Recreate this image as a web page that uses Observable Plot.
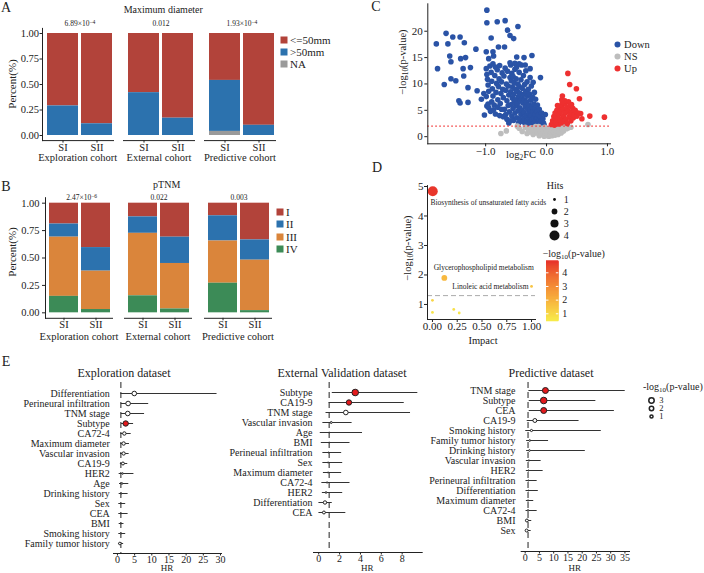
<!DOCTYPE html>
<html><head><meta charset="utf-8">
<script src="https://cdn.jsdelivr.net/npm/d3@7"></script>
<script src="https://cdn.jsdelivr.net/npm/@observablehq/plot@0.6"></script>
<style>
body{margin:0;background:#fff;}
#fig{position:relative;width:704px;height:573px;overflow:hidden;font-family:"Liberation Serif","Times New Roman",serif;color:#222;background:#fff;}
.t,.tl,.rot{position:absolute;white-space:nowrap;line-height:1;}
.t{transform:translate(-50%,-50%);}
.tl{transform:translate(0,-50%);}
.rot{transform:translate(-50%,-50%) rotate(-90deg);}
.sw{position:absolute;width:7px;height:7px;transform:translate(-50%,-50%);}
sup{font-size:0.75em;vertical-align:0.45em;line-height:0;}
.sb{font-size:0.7em;position:relative;top:0.25em;}
</style></head><body><div id="fig"></div>
<script>
// ---------------- DATA ----------------
// Panel A: maximum diameter (proportions, per stage SI / SII)
const cohorts = ["Exploration cohort", "External cohort", "Predictive cohort"];
const stages = ["SI", "SII"];
const diamCats = ["<=50mm", ">50mm", "NA"];
const diamColors = ["#B2433A", "#2C72AE", "#9A9A9A"];
const diamExploration = [[0.71, 0.29, 0.00], [0.885, 0.115, 0.00]];
const diamExternal = [[0.58, 0.42, 0.00], [0.83, 0.17, 0.00]];
const diamPredictive = [[0.46, 0.50, 0.04], [0.90, 0.10, 0.00]];
const diamP = ["6.89×10^−4", "0.012", "1.93×10^−4"];

// Panel B: pTNM
const tnmCats = ["I", "II", "III", "IV"];
const tnmColors = ["#B2433A", "#2C72AE", "#DA853B", "#3C8B57"];
const tnmExploration = [[0.19, 0.12, 0.54, 0.15], [0.405, 0.215, 0.35, 0.03]];
const tnmExternal = [[0.125, 0.15, 0.57, 0.155], [0.31, 0.24, 0.415, 0.035]];
const tnmPredictive = [[0.115, 0.23, 0.385, 0.27], [0.335, 0.185, 0.46, 0.02]];
const tnmP = ["2.47×10^−6", "0.022", "0.003"];

// Panel C: volcano [log2FC, -log10(p)]
const volcanoGroups = ["Down", "NS", "Up"];
const volcanoColors = ["#2A53A6", "#BDBDBD", "#EE3030"];
const volcanoDown = [
[-1.81,17.6],[-1.79,12.9],[-1.65,19.6],[-1.68,9.9],[-1.62,17.6],[-1.59,15.3],[-1.57,14.2],[-1.54,18.9],[-1.57,11.0],[-1.49,10.6],
[-1.42,18.9],[-1.35,17.8],[-1.41,14.8],[-1.33,15.0],[-1.37,12.9],[-1.36,11.5],[-1.44,6.8],[-1.42,6.4],[-1.29,9.3],[-1.29,6.5],
[-1.25,13.1],[-1.16,16.6],[-1.14,8.7],[-1.07,7.1],[-1.02,4.1],[-1.03,8.2],[-0.98,24.0],[-0.98,21.6],[-0.81,21.8],[-0.68,22.0],
[-0.64,20.2],[-0.60,19.2],[-0.54,18.6],[-0.47,20.9],[-0.91,18.7],[-0.99,16.1],[-0.88,16.1],[-0.79,17.0],[-0.69,17.0],[-0.95,14.8],
[-0.87,15.3],[-0.49,15.1],[-0.37,15.0],[-0.24,15.4],[-0.10,11.2],[-0.02,4.2],[-0.98,5.8],[-0.96,6.2],
[-0.99,12.9],[-0.98,11.8],[-0.97,10.9],[-0.96,9.8],[-0.99,7.6],[-0.95,8.6],[-0.93,13.4],[-0.91,12.2],[-0.90,10.5],[-0.89,9.1],
[-0.88,7.7],[-0.86,6.0],[-0.85,11.6],[-0.84,13.2],[-0.83,8.4],[-0.82,10.1],[-0.81,12.7],[-0.80,7.0],[-0.79,9.5],[-0.78,11.0],
[-0.77,13.5],[-0.76,6.3],[-0.75,8.2],[-0.74,10.4],[-0.73,12.1],[-0.72,9.0],[-0.71,7.4],[-0.70,11.5],[-0.69,5.2],[-0.68,13.0],
[-0.67,8.8],[-0.66,10.0],[-0.65,6.8],[-0.64,12.4],[-0.63,9.6],[-0.62,7.9],[-0.61,4.7],[-0.60,11.2],
[-0.59,13.6],[-0.59,8.5],[-0.58,6.1],[-0.58,10.6],[-0.57,3.9],[-0.57,12.0],[-0.56,7.3],[-0.56,9.4],[-0.55,5.4],[-0.55,11.4],
[-0.54,3.1],[-0.54,8.0],[-0.53,6.7],[-0.53,10.2],[-0.52,12.8],[-0.52,4.5],[-0.51,9.0],[-0.51,7.0],[-0.50,5.9],[-0.50,11.0],
[-0.49,3.6],[-0.49,13.2],[-0.48,8.6],[-0.48,6.3],[-0.47,10.0],[-0.47,4.9],[-0.46,7.6],[-0.46,2.6],[-0.45,9.5],[-0.45,12.2],
[-0.44,5.5],[-0.44,3.3],[-0.43,8.2],[-0.43,6.9],[-0.42,10.8],[-0.42,4.2],[-0.41,7.2],[-0.41,13.6],[-0.40,5.0],[-0.40,9.2],
[-0.39,2.9],[-0.39,6.4],[-0.38,11.6],[-0.38,8.0],[-0.37,4.6],[-0.37,3.6],[-0.36,7.0],[-0.36,9.9],[-0.35,5.7],[-0.35,2.4],
[-0.34,12.5],[-0.34,8.6],[-0.33,4.0],[-0.33,6.6],[-0.32,3.0],[-0.32,10.4],[-0.31,5.2],[-0.31,7.7],[-0.30,2.5],[-0.30,9.0],
[-0.29,4.4],[-0.29,6.0],[-0.28,3.4],[-0.28,8.1],[-0.27,5.1],[-0.27,11.2],[-0.26,2.8],[-0.26,6.9],[-0.25,4.0],[-0.25,9.6],
[-0.24,3.2],[-0.24,5.6],[-0.23,7.5],[-0.23,2.3],[-0.22,4.7],[-0.22,10.3],[-0.21,3.6],[-0.21,6.2],[-0.20,2.7],[-0.20,8.4],
[-0.19,4.2],[-0.19,5.3],[-0.18,3.0],[-0.18,7.1],[-0.17,2.4],[-0.16,4.8],[-0.16,3.5],[-0.15,6.0],[-0.14,2.8],[-0.13,4.1],
[-0.12,3.2],[-0.12,5.2],[-0.11,2.5],[-0.10,3.7],[-0.09,2.9],[-0.08,4.5],[-0.07,2.3],[-0.06,3.4],[-0.05,2.6],[-0.04,2.2],
[-0.95,5.5],[-0.92,4.8],[-0.90,6.6],[-0.87,5.1],[-0.84,4.3],[-0.80,5.6],[-0.77,4.0],[-0.74,5.2],[-0.71,3.8],[-0.67,4.2],
[-0.65,3.3],[-0.63,5.9],[-0.60,3.0],[-0.62,2.6],[-0.88,13.8],[-0.60,14.0],[-0.52,13.9],[-0.45,13.8],[-0.35,13.6],[-0.27,12.9]
];
const volcanoNS = [
[-0.75,0.6],[-0.66,1.1],[-0.45,1.6],[-0.40,1.0],[-0.35,1.8],[-0.32,0.6],[-0.30,1.3],[-0.27,0.9],[-0.25,1.7],[-0.22,0.4],
[-0.20,1.1],[-0.18,1.9],[-0.16,0.7],[-0.14,1.4],[-0.12,0.2],[-0.10,0.9],[-0.08,1.6],[-0.07,0.5],[-0.05,1.2],[-0.04,0.1],
[-0.03,1.8],[-0.02,0.7],[-0.01,0.3],[0.00,1.0],[0.01,0.2],[0.02,1.5],[0.03,0.6],[0.04,0.1],[0.05,1.1],[0.06,0.4],
[0.07,1.7],[0.08,0.8],[0.09,0.2],[0.10,1.3],[0.11,0.5],[0.12,0.9],[0.13,1.9],[0.14,0.3],[0.15,1.2],[0.16,0.6],
[0.18,1.6],[0.19,0.4],[0.20,1.0],[0.22,1.8],[0.24,0.7],[0.26,1.4],[0.28,1.1],[0.30,1.9],[0.33,1.5],[0.36,1.7],
[0.40,1.8],[0.68,2.3],[-0.48,2.0],[-0.13,1.9]
];
const volcanoUp = [
[0.35,12.0],[0.38,9.9],[0.49,9.1],[0.54,7.2],[0.26,7.7],[0.25,7.0],[0.95,3.7],[0.71,3.9],[0.56,4.4],[0.58,3.4],
[0.08,2.3],[0.10,3.0],[0.11,2.6],[0.12,3.8],[0.13,2.2],[0.14,4.5],[0.15,3.2],[0.16,2.7],[0.17,5.0],[0.18,3.7],
[0.19,2.4],[0.20,4.2],[0.21,5.6],[0.22,3.0],[0.23,4.8],[0.24,2.6],[0.25,6.0],[0.26,3.5],[0.27,5.2],[0.28,4.0],
[0.29,2.9],[0.30,6.3],[0.31,4.6],[0.32,3.3],[0.33,5.5],[0.34,2.5],[0.35,4.9],[0.36,6.6],[0.37,3.8],[0.38,5.8],
[0.39,4.3],[0.40,3.0],[0.41,6.1],[0.42,4.7],[0.43,5.4],[0.44,3.6],[0.45,4.1],[0.47,5.0],[0.50,3.9],[0.52,4.5],
[0.30,6.8],[0.26,6.5],[0.18,5.9]
];
const volcanoThreshold = 2;

// Panel D: pathway analysis
const pathwayNames = ["Biosynthesis of unsaturated fatty acids", "Glycerophospholipid metabolism", "Linoleic acid metabolism", "", "", "", ""];
const pathwayImpact = [0.003, 0.12, 1.0, 0.0, 0.0, 0.215, 0.27];
const pathwayLogP = [4.84, 1.90, 1.61, 1.14, 0.73, 0.83, 0.71];
const pathwayHits = [4, 2, 1, 1, 1, 1, 1];
const pathwayThreshold = 1.3;

// Panel E: forest plots (HR with CI, -log10 p)
const expLabels = ["Differentiation","Perineural infiltration","TNM stage","Subtype","CA72-4","Maximum diameter","Vascular invasion","CA19-9","HER2","Age","Drinking history","Sex","CEA","BMI","Smoking history","Family tumor history"];
const expHR = [4.9, 3.1, 3.0, 2.4, 2.0, 1.8, 1.8, 1.6, 1.5, 1.3, 1.1, 1.0, 1.0, 1.0, 1.0, 0.7];
const expLo = [1.0, 1.1, 1.1, 1.2, 1.0, 1.0, 0.9, 0.85, 0.5, 0.6, 0.5, 0.4, 0.4, 0.5, 0.4, 0.3];
const expHi = [29.0, 9.1, 7.9, 4.7, 4.0, 3.5, 3.4, 3.0, 4.8, 3.3, 3.1, 2.4, 3.1, 1.9, 2.4, 1.8];
const expLogP = [2.2, 2.2, 2.2, 3.0, 1.2, 1.2, 1.1, 0.9, 0.25, 0.3, 0.15, 0.1, 0.1, 0.15, 0.2, 0.7];
const expSig = ["Subtype"];

const extLabels = ["Subtype","CA19-9","TNM stage","Vascular invasion","Age","BMI","Perineual infiltration","Sex","Maximum diameter","CA72-4","HER2","Differentiation","CEA"];
const extHR = [3.5, 2.9, 2.6, 1.2, 1.0, 1.0, 0.95, 0.9, 0.9, 0.8, 0.7, 0.6, 0.5];
const extLo = [1.3, 1.0, 0.7, 0.4, 0.15, 0.25, 0.4, 0.4, 0.45, 0.3, 0.35, 0.02, 0.02];
const extHi = [9.5, 8.2, 8.8, 3.2, 4.2, 3.0, 2.2, 2.3, 2.2, 3.0, 2.3, 1.3, 2.6];
const extLogP = [4.5, 3.0, 2.2, 0.4, 0.1, 0.1, 0.1, 0.15, 0.15, 0.2, 0.3, 1.2, 0.9];
const extSig = ["Subtype", "CA19-9"];

const preLabels = ["TNM stage","Subtype","CEA","CA19-9","Smoking history","Family tumor history","Drinking history","Vascular invasion","HER2","Perineural infiltration","Differentiation","Maximum diameter","CA72-4","BMI","Sex"];
const preHR = [7.1, 6.5, 6.5, 3.4, 2.2, 1.6, 1.5, 1.3, 1.2, 1.1, 1.1, 1.0, 1.0, 0.6, 0.5];
const preLo = [1.3, 1.4, 1.4, 0.7, 0.2, 0.5, 0.5, 0.4, 0.4, 0.3, 0.3, 0.4, 0.3, 0.2, 0.2];
const preHi = [35.1, 24.8, 31.3, 18.9, 26.7, 8.2, 21.1, 5.6, 6.3, 4.2, 4.6, 3.0, 4.2, 2.3, 2.1];
const preLogP = [3.7, 4.5, 3.7, 1.6, 0.5, 0.3, 0.3, 0.2, 0.15, 0.15, 0.1, 0.2, 0.3, 0.9, 0.9];
const preSig = ["TNM stage", "Subtype", "CEA"];
const forestLegend = [3, 2, 1];

// ---------------- HELPERS ----------------
const fig = document.getElementById("fig");
const INK = "#222";
function place(el, left, top) {
  el.style.position = "absolute"; el.style.left = left + "px"; el.style.top = top + "px";
  fig.appendChild(el);
}
function label(html, x, y, size, cls = "t") {
  const d = document.createElement("div");
  d.className = cls; d.style.left = x + "px"; d.style.top = y + "px"; d.style.fontSize = size + "px";
  d.innerHTML = html; fig.appendChild(d);
}
const sup = s => s.replace(/\^(.+)$/, "<sup>$1</sup>");
const style = fs => ({fontFamily: '"Liberation Serif", "Times New Roman", serif', fontSize: fs + "px", background: "none", color: INK, overflow: "visible"});

// ---------------- PANELS A & B ----------------
function stackPanel(cfg) {
  cfg.values.forEach((vals, ci) => {
    const rows = [];
    stages.forEach((s, si) => cfg.cats.forEach((c, k) => rows.push({stage: s, cat: c, v: vals[si][k]})));
    const L = cfg.lefts[ci];
    const svg = Plot.plot({
      width: cfg.ml + cfg.fw, height: cfg.h,
      marginLeft: cfg.ml, marginRight: 0,
      marginTop: cfg.yTop - cfg.top, marginBottom: cfg.top + cfg.h - cfg.yBot,
      style: style(cfg.fs),
      x: {domain: stages, paddingInner: 0.1, paddingOuter: 0.1, align: cfg.align, tickSize: 2.5, tickPadding: 0, label: null},
      y: {domain: [-0.05, 1.05], ticks: [0, 0.25, 0.5, 0.75, 1], tickFormat: d3.format(".2f"),
          axis: ci === 0 ? "left" : null, tickSize: cfg.yts, tickPadding: cfg.ytp, label: null},
      color: {domain: cfg.cats, range: cfg.colors},
      marks: [
        Plot.barY(rows, {x: "stage", y: "v", fill: "cat", order: cfg.order}),
        Plot.ruleY([-0.05], {stroke: INK}),
        ci === 0 ? Plot.frame({anchor: "left", stroke: INK}) : null
      ]
    });
    place(svg, L - cfg.ml, cfg.top);
    label(cohorts[ci], L + cfg.fw / 2, cfg.cohortY, 10.5);
    label(sup(cfg.pvals[ci]), cfg.pX[ci], cfg.pY, 7.5);
  });
  cfg.cats.forEach((c, i) => {
    const sw = document.createElement("div");
    sw.className = "sw"; sw.style.left = cfg.legX + "px"; sw.style.top = cfg.legY[i] + "px"; sw.style.background = cfg.colors[i];
    fig.appendChild(sw);
    label(c, cfg.legX + 6, cfg.legY[i], 11, "tl");
  });
}

stackPanel({
  values: [diamExploration, diamExternal, diamPredictive], cats: diamCats, colors: diamColors,
  order: ["NA", ">50mm", "<=50mm"], pvals: diamP,
  lefts: [41.7, 123, 204], fw: 72, ml: 42, align: 0.7,
  top: 0, h: 160, yTop: 27.9, yBot: 140.1, yts: 2.5, ytp: 1, fs: 10.5,
  cohortY: 157.5, pX: [80, 161, 242], pY: 24,
  legX: 284, legY: [40, 52.3, 64.3]
});
stackPanel({
  values: [tnmExploration, tnmExternal, tnmPredictive], cats: tnmCats, colors: tnmColors,
  order: ["IV", "III", "II", "I"], pvals: tnmP,
  lefts: [45, 124, 204], fw: 68, ml: 45, align: 0.5,
  top: 175, h: 160, yTop: 197.2, yBot: 317.8, yts: 3, ytp: 3, fs: 10.5,
  cohortY: 337, pX: [81.7, 159, 239], pY: 198.3,
  legX: 280, legY: [211.7, 224, 236.7, 249]
});
label("A", 6, 8, 14); label("B", 6, 187, 14);
label("Maximum diameter", 163.3, 10, 10);
label("pTNM", 166.7, 185, 10);
label("Percent(%)", 12, 83.5, 11, "rot");
label("Percent(%)", 12, 251.7, 11, "rot");

// ---------------- PANEL C ----------------
const volcanoRows = [
  ...volcanoDown.map(([x, y]) => ({x, y, g: "Down"})),
  ...volcanoNS.map(([x, y]) => ({x, y, g: "NS"})),
  ...volcanoUp.map(([x, y]) => ({x, y, g: "Up"}))
];
const cSvg = Plot.plot({
  width: 240, height: 160, marginLeft: 47.3, marginRight: 10, marginTop: 3.3, marginBottom: 16.7,
  style: style(11),
  x: {domain: [-1.95, 1.05], ticks: [-1, 0, 1], tickSize: 3, tickPadding: 0, label: null},
  y: {domain: [-1.35, 25.2], ticks: [0, 5, 10, 15, 20], tickSize: 3, tickPadding: 2, label: null},
  color: {domain: volcanoGroups, range: volcanoColors},
  marks: [
    Plot.dot(volcanoRows, {x: "x", y: "y", fill: "g", r: 2.8}),
    Plot.ruleY([volcanoThreshold], {stroke: "#F03030", strokeDasharray: "1.5,2.5", strokeWidth: 1.2}),
    Plot.frame({anchor: "left", stroke: INK}),
    Plot.frame({anchor: "bottom", stroke: INK})
  ]
});
place(cSvg, 380, 0);
const cLeg = Plot.plot({
  width: 20, height: 40, margin: 0, style: style(10.5),
  x: {axis: null}, y: {domain: volcanoGroups, range: [8.7, 33.3], padding: 0, axis: null},
  color: {domain: volcanoGroups, range: volcanoColors},
  marks: [
    Plot.dot(volcanoGroups, {y: d => d, fill: d => d, r: 3}),
    Plot.text(volcanoGroups, {y: d => d, text: d => d, dx: 6.6, textAnchor: "start", fontSize: 10.5})
  ]
});
place(cLeg, 606.7, 35);
label("C", 376, 7, 14);
label("log<span class='sb'>2</span>FC", 521, 155, 10.5);
label("−log<span class='sb'>10</span>(p-value)", 403.3, 62, 10.5, "rot");

// ---------------- PANEL D ----------------
const pathRows = pathwayNames.map((n, i) => ({name: n, impact: pathwayImpact[i], logp: pathwayLogP[i], hits: pathwayHits[i]}));
const dColor = {type: "linear", domain: [0.51, 4.85], range: ["#F7EC4C", "#E8352B"], interpolate: d3.interpolateLab};
const dR = {type: "sqrt", domain: [1, 4], range: [1.4, 5]};
const dSvg = Plot.plot({
  width: 170, height: 175, marginLeft: 47, marginRight: 15, marginTop: 25.1, marginBottom: 16,
  style: style(11),
  x: {domain: [-0.05, 1.04], ticks: [0, 0.25, 0.5, 0.75, 1], tickFormat: d3.format(".2f"), tickSize: 3, tickPadding: 0, label: null},
  y: {domain: [0.49, 5.03], ticks: [1, 2, 3, 4, 5], tickFormat: d3.format("d"), tickSize: 3, tickPadding: 1, label: null},
  color: dColor, r: dR,
  marks: [
    Plot.ruleY([pathwayThreshold], {stroke: "#AAAAAA", strokeDasharray: "5,3"}),
    Plot.dot(pathRows, {x: "impact", y: "logp", r: "hits", fill: "logp"}),
    Plot.text(pathRows.slice(0, 1), {x: "impact", y: "logp", text: "name", textAnchor: "start", dx: -2.3, dy: 11.6, fontSize: 7.5}),
    Plot.text(pathRows.slice(1, 2), {x: "impact", y: "logp", text: "name", textAnchor: "start", dx: -10.7, dy: -10.3, fontSize: 7.5}),
    Plot.text(pathRows.slice(2, 3), {x: "impact", y: "logp", text: "name", textAnchor: "end", dx: -3, dy: 0, fontSize: 7.5}),
    Plot.frame({anchor: "left", stroke: INK}),
    Plot.frame({anchor: "bottom", stroke: INK})
  ]
});
place(dSvg, 380, 160);
const hitLevels = ["1", "2", "3", "4"];
const dLeg = Plot.plot({
  width: 30, height: 55, margin: 0, style: style(10),
  x: {axis: null}, y: {domain: hitLevels, range: [9, 45], padding: 0, axis: null}, r: dR,
  marks: [
    Plot.dot(hitLevels, {y: d => d, r: d => +d, fill: "#111"}),
    Plot.text(hitLevels, {y: d => d, text: d => d, dx: 9.3, textAnchor: "start", fontSize: 10})
  ]
});
place(dLeg, 539, 190);
const gradientStops = d3.range(0.51, 4.86, 0.02);
const dBar = Plot.plot({
  width: 32.3, height: 70, marginLeft: 0, marginRight: 20, marginTop: 5.7, marginBottom: 5,
  style: style(10),
  x: {domain: [0, 1], axis: null},
  y: {domain: [0.51, 4.85], axis: "right", ticks: [1, 2, 3, 4], tickFormat: d3.format("d"), tickSize: 0, tickPadding: 3.4, label: null},
  color: dColor,
  marks: [
    Plot.ruleY(gradientStops, {y: d => d, stroke: d => d, strokeWidth: 1.6}),
    Plot.ruleY([1, 2, 3, 4], {x1: 0, x2: 0.2, stroke: "white"}),
    Plot.ruleY([1, 2, 3, 4], {x1: 0.8, x2: 1, stroke: "white"})
  ]
});
place(dBar, 546, 255);
label("D", 377, 168, 14);
label("Hits", 546.7, 186, 10, "tl");
label("−log<span class='sb'>10</span>(p-value)", 542.7, 254, 10, "tl");
label("Impact", 483, 341, 10.5);
label("−log<span class='sb'>10</span>(p-value)", 408.3, 248, 10.5, "rot");

// ---------------- PANEL E ----------------
const eR = {type: "sqrt", domain: [0, 3], range: [0, 2.7]};
function forest(c) {
  const rows = c.labels.map((l, i) => ({label: l, hr: c.hr[i], lo: c.lo[i], hi: c.hi[i], p: c.logp[i], sig: c.sig.includes(l)}));
  const svg = Plot.plot({
    width: c.width, height: c.height, marginLeft: c.ml, marginRight: c.width - c.ml - c.pw,
    marginTop: c.dashTop - c.top, marginBottom: c.top + c.height - c.axisY,
    style: style(10),
    x: {domain: c.xDomain, ticks: c.xTicks, tickSize: 2.5, tickPadding: 0, label: null, fontSize: 9.5},
    y: {domain: c.labels, range: [c.yFirst - c.top, c.yLast - c.top], padding: 0, tickSize: 0, tickPadding: c.pad, label: null},
    r: eR,
    marks: [
      Plot.ruleX([1], {stroke: INK, strokeDasharray: "6,4"}),
      Plot.ruleY(rows, {y: "label", x1: "lo", x2: "hi", stroke: "#333"}),
      Plot.dot(rows, {x: "hr", y: "label", r: "p", fill: d => d.sig ? "#E3191C" : "white", stroke: INK, strokeWidth: 1}),
      Plot.frame({anchor: "bottom", stroke: INK})
    ]
  });
  place(svg, c.left, c.top);
  label(c.title, c.titleX, 373, 12);
  label("HR", c.left + c.ml + c.pw / 2, 568, 9);
}
forest({labels: expLabels, hr: expHR, lo: expLo, hi: expHi, logp: expLogP, sig: expSig,
  left: 0, top: 375, width: 225, height: 199, ml: 113, pw: 108, dashTop: 382, axisY: 553,
  yFirst: 392, yLast: 543, xDomain: [-1.15, 30.3], xTicks: [0, 5, 10, 15, 20, 25, 30], pad: 3.7,
  title: "Exploration dataset", titleX: 124});
forest({labels: extLabels, hr: extHR, lo: extLo, hi: extHi, logp: extLogP, sig: extSig,
  left: 220, top: 375, width: 205, height: 199, ml: 93, pw: 108.7, dashTop: 382, axisY: 552,
  yFirst: 392, yLast: 512, xDomain: [-0.5, 9.92], xTicks: [0, 2, 4, 6, 8], pad: 1,
  title: "External Validation dataset", titleX: 342});
forest({labels: preLabels, hr: preHR, lo: preLo, hi: preHi, logp: preLogP, sig: preSig,
  left: 425, top: 375, width: 210, height: 199, ml: 95.7, pw: 108.3, dashTop: 382, axisY: 551,
  yFirst: 390, yLast: 530.7, xDomain: [-1.4, 36.6], xTicks: [0, 5, 10, 15, 20, 25, 30, 35], pad: 5.7,
  title: "Predictive dataset", titleX: 551});
const eLeg = Plot.plot({
  width: 20, height: 35, margin: 0, style: style(8.5),
  x: {axis: null}, y: {domain: forestLegend.map(String), range: [9.3, 27], padding: 0, axis: null}, r: eR,
  marks: [
    Plot.dot(forestLegend, {y: d => String(d), r: d => d, fill: "white", stroke: INK}),
    Plot.text(forestLegend, {y: d => String(d), text: d => String(d), dx: 7.7, textAnchor: "start", fontSize: 8.5})
  ]
});
place(eLeg, 641.3, 390);
label("-log<span class='sb'>10</span>(p-value)", 643, 387, 10, "tl");
label("E", 6, 362, 14);
</script></body></html>
